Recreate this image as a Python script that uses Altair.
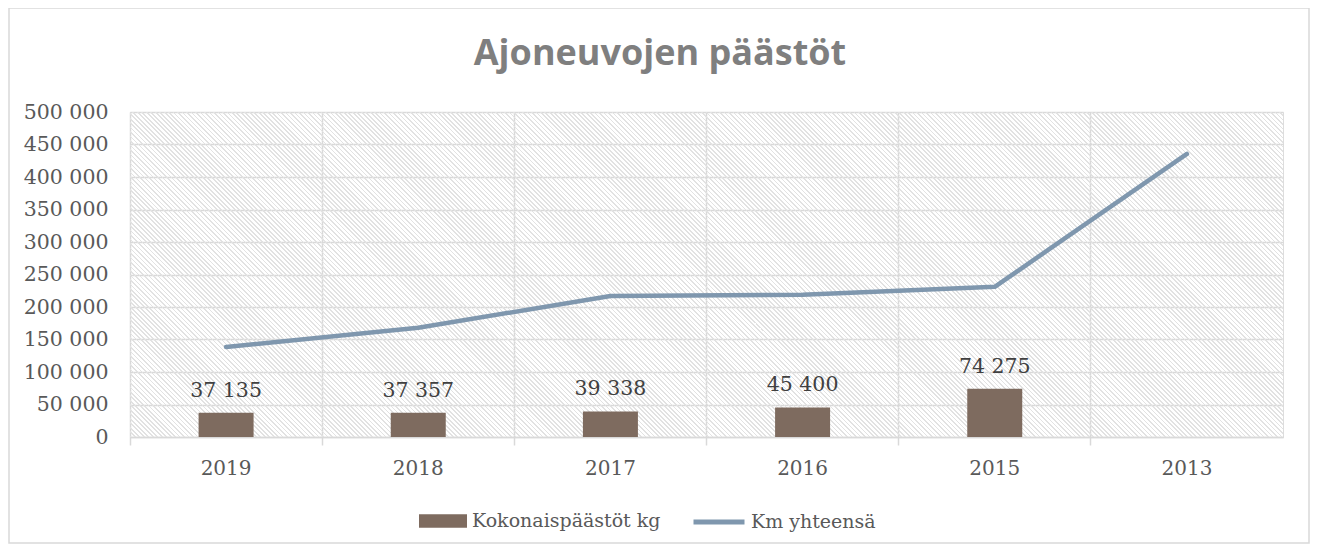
import altair as alt
import pandas as pd

years = ["2019", "2018", "2017", "2016", "2015", "2013"]
kg = [37135, 37357, 39338, 45400, 74275, None]
km = [138500, 168000, 217000, 219000, 231000, 435500]

TITLE = "Ajoneuvojen päästöt"
BAR_NAME = "Kokonaispäästöt kg"
LINE_NAME = "Km yhteensä"
BROWN = "#7e6b5f"
BLUE = "#7f97ae"
GRID = "#d9d9d9"
SERIF = "DejaVu Serif"

df = pd.DataFrame({"year": years, "kg": kg, "km": km})

W, H = 1153, 325

# diagonal hatch of the plot background (style only)
N = 330
gap_col = "rgba(255,255,255,0)"
stripe_col = "#e2e2e2"
stops = []
for i in range(N):
    a = i / N
    b = (i + 0.38) / N
    c = (i + 1) / N
    stops += [
        {"offset": a, "color": stripe_col},
        {"offset": b, "color": stripe_col},
        {"offset": b, "color": gap_col},
        {"offset": c, "color": gap_col},
    ]
r = H / W
k = (1 + r) / (1 + r * r)
hatch = {
    "gradient": "linear",
    "x1": 0, "y1": 1,
    "x2": k, "y2": 1 - k * r,
    "stops": stops,
}

lbl_expr = "replace(format(datum.value, ','), regexp(',', 'g'), ' ')"

x_enc = alt.X(
    "year:N",
    sort=years,
    scale=alt.Scale(paddingInner=0, paddingOuter=0),
    axis=alt.Axis(
        title=None, grid=True, gridColor=GRID, gridWidth=1.5,
        bandPosition=0,
        domainColor=GRID, domainWidth=1.5,
        ticks=True, tickSize=8, tickColor=GRID, tickWidth=1.5,
        labelFont=SERIF, labelFontSize=20, labelColor="#595959",
        labelPadding=13, labelAngle=0,
    ),
)
y_axis = alt.Axis(
    title=None, values=list(range(0, 500001, 50000)),
    grid=True, gridColor=GRID, gridWidth=1.5,
    domain=False, ticks=False,
    labelFont=SERIF, labelFontSize=20.5, labelColor="#595959",
    labelPadding=22, labelExpr=lbl_expr,
)
y_scale = alt.Scale(domain=[0, 500000], nice=False)

base = alt.Chart(df)

bg = alt.Chart(alt.Data(values=[{"bg": 1}])).mark_rect(fill=hatch).encode(
    x=alt.value(0), x2=alt.value("width"), y=alt.value(0), y2=alt.value("height")
)

bars = base.transform_filter("datum.kg != null").transform_calculate(
    s1="'" + BAR_NAME + "'"
).mark_bar(size=55).encode(
    x=x_enc,
    y=alt.Y("kg:Q", scale=y_scale, axis=y_axis),
    fill=alt.Fill(
        "s1:N",
        scale=alt.Scale(domain=[BAR_NAME], range=[BROWN]),
        legend=alt.Legend(
            title=None, orient="none", legendX=289, legendY=385,
            symbolType="M-1,-0.28H1V0.28H-1Z", symbolSize=2304,
            symbolStrokeWidth=0, symbolOpacity=1,
            labelFont=SERIF, labelFontSize=19, labelColor="#595959",
            labelOffset=5, padding=0, labelLimit=500,
        ),
    ),
)

labels = base.transform_filter("datum.kg != null").transform_calculate(
    lab="replace(format(datum.kg, ','), regexp(',', 'g'), ' ')"
).mark_text(
    font=SERIF, fontSize=20.5, color="#404040", baseline="alphabetic", dy=-16
).encode(
    x=x_enc,
    y=alt.Y("kg:Q", scale=y_scale, axis=y_axis),
    text="lab:N",
)

line = base.transform_calculate(s2="'" + LINE_NAME + "'").mark_line(
    strokeWidth=4.5, strokeCap="round", strokeJoin="round"
).encode(
    x=x_enc,
    y=alt.Y("km:Q", scale=y_scale, axis=y_axis),
    stroke=alt.Stroke(
        "s2:N",
        scale=alt.Scale(domain=[LINE_NAME], range=[BLUE]),
        legend=alt.Legend(
            title=None, orient="none", legendX=561, legendY=382,
            symbolType="stroke", symbolSize=2601, symbolStrokeWidth=5,
            labelFont=SERIF, labelFontSize=19, labelColor="#595959",
            labelOffset=4, padding=0, labelLimit=500,
        ),
    ),
)

title = alt.Chart(alt.Data(values=[{"t": TITLE}])).mark_text(
    font="Open Sans", fontSize=36, fontWeight="bold", color="#7f7f7f",
    align="center", baseline="alphabetic",
).encode(
    x=alt.value(530), y=alt.value(-47), text="t:N"
)

frame = alt.Chart(alt.Data(values=[{"f": 1}])).mark_rect(
    fill="transparent", stroke=GRID, strokeWidth=1.5
).encode(
    x=alt.value(-121), x2=alt.value(W + 26), y=alt.value(-104), y2=alt.value(H + 106)
)

chart = alt.layer(bg, bars, labels, line, title, frame).properties(
    width=W,
    height=H,
    autosize=alt.AutoSizeParams(type="none"),
    padding={"left": 122, "top": 104, "right": 27, "bottom": 108},
).resolve_scale(fill="independent", stroke="independent").configure_view(
    stroke=GRID, strokeWidth=1.5, fill="white"
).configure(background="white")

chart.save("out.html", embed_options={"renderer": "svg", "actions": False})
